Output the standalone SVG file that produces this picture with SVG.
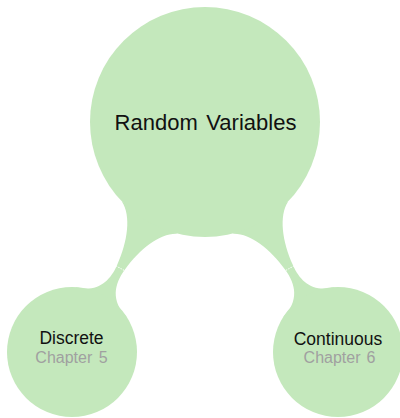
<svg xmlns="http://www.w3.org/2000/svg" width="400" height="418" viewBox="0 0 400 418">
<defs>
<style>
.fill{fill:#c4e8bc;stroke:none}
.seam{stroke:#ffffff;stroke-width:0.9;stroke-dasharray:1.3 1.3;fill:none}
.t{font-family:"Liberation Sans",Arial,Helvetica,sans-serif;fill:#111111;text-anchor:middle}
.sub{font-family:"Liberation Sans",Arial,Helvetica,sans-serif;fill:#a0a0a0;text-anchor:middle}
</style>
<path id="bar" class="fill" d="M110.5,-32 C118,-17 142,-7 168,-4.5 C186,-2.5 202,-8 208,-30 L208,30 C202,8 186,2.5 168,4.5 C142,7 118,17 110.5,32 Z"/>
</defs>
<rect width="400" height="418" fill="#ffffff"/>
<g id="connectors">
<g transform="matrix(-0.5006 0.8657 0.8657 0.5006 205 122)">
<use href="#bar"/>
<line class="seam" x1="169" y1="-5" x2="169" y2="5.5"/>
</g>
<g transform="matrix(0.5006 0.8657 -0.8657 0.5006 205 122)">
<use href="#bar"/>
<line class="seam" x1="169" y1="-5" x2="169" y2="5.5"/>
</g>
</g>
<g id="random-variables">
<circle class="fill" cx="205" cy="122" r="115"/>
<text class="t" x="205.5" y="130" font-size="22" word-spacing="2.5">Random Variables</text>
</g>
<g id="discrete">
<circle class="fill" cx="72" cy="352" r="65"/>
<text class="t" x="71.5" y="344" font-size="17.5">Discrete</text>
<text class="sub" x="71.5" y="363" font-size="16" word-spacing="2">Chapter 5</text>
</g>
<g id="continuous">
<circle class="fill" cx="338" cy="352" r="65"/>
<text class="t" x="338" y="344.5" font-size="17.5">Continuous</text>
<text class="sub" x="339.5" y="363" font-size="16" word-spacing="1.5">Chapter 6</text>
</g>
</svg>
